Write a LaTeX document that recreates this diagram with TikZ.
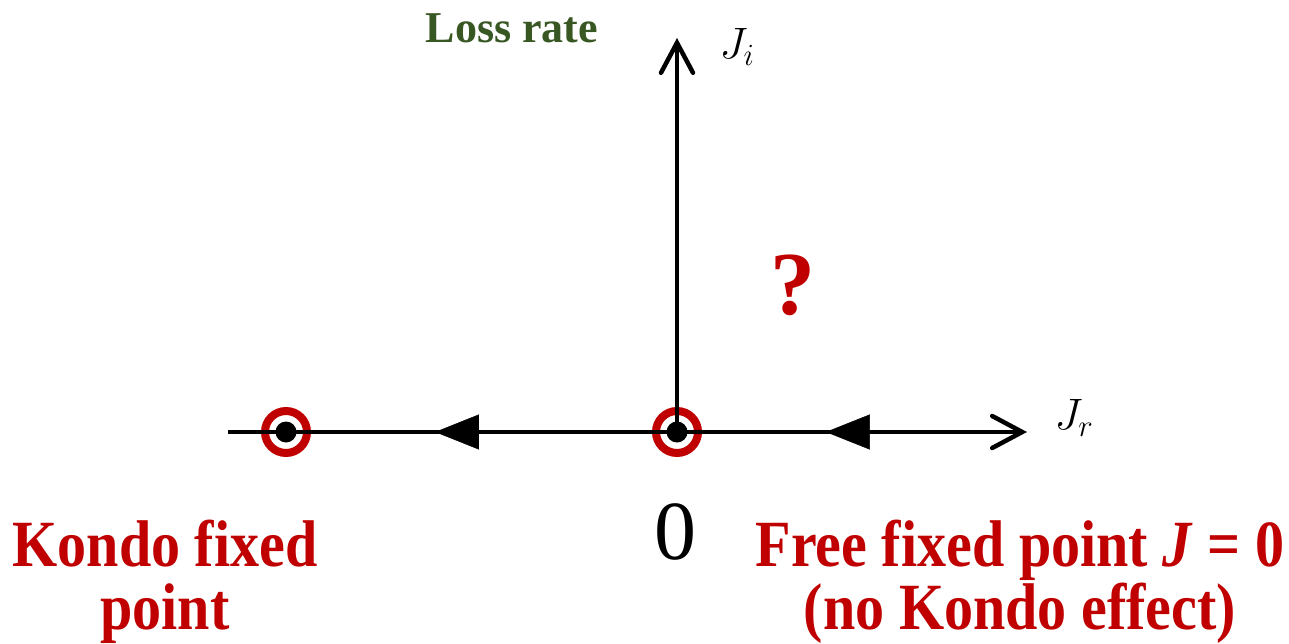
\RequirePackage{fix-cm}
\documentclass[tikz,border=0pt]{standalone}
\usepackage{fontspec}
\setmainfont{Liberation Serif}
\newfontfamily\condserif[FakeStretch=0.88]{Liberation Serif}
\usetikzlibrary{arrows.meta, decorations.markings}
\definecolor{kred}{RGB}{192,0,0}
\definecolor{lossgreen}{RGB}{56,87,35}

\begin{document}
\begin{tikzpicture}[x=1pt, y=-1pt,
  axis/.style={line width=4.5pt, -{Straight Barb[length=30pt, width=32pt, line cap=round]}},
  fixedpt/.style={circle, draw=kred, line width=8pt, minimum size=42pt, inner sep=0pt},
  flow/.style={postaction={decorate}, decoration={markings,
      mark=at position #1 with {\arrow{Triangle[length=44pt, width=35pt]}}}},
  redtext/.style={text=kred, font=\condserif\fontsize{66}{63}\selectfont\bfseries, align=center, inner sep=0pt},
  axlabel/.style={font=\fontsize{44}{44}\selectfont, inner sep=0pt}
]
  \useasboundingbox (0,0) rectangle (1289,644);

  % fixed points
  \node[fixedpt] (kondo) at (286,432) {};
  \node[fixedpt] (free)  at (677,432) {};

  % axes
  \coordinate (xstart) at (228,432);
  \coordinate (xend)   at (1027,432);
  \coordinate (yend)   at (677,38);
  \draw[axis] (xstart) -- (xend);
  \draw[axis] (free.center) -- (yend);
  \fill (kondo.center) circle (10.5pt);
  \fill (free.center) circle (10.5pt);

  % RG flow
  \path[flow=0.619] (free.center) -- (kondo.center);
  \path[flow=0.575] (xend) -- (free.center);

  \node[axlabel] (jr) at (1074,418) {$J_r$};
  \node[axlabel] (ji) at (737,47) {$J_i$};
  \node[font=\fontsize{44}{44}\selectfont\bfseries, text=lossgreen, inner sep=0pt] (loss) at (512,28) {Loss rate};
  \node[font=\fontsize{90}{90}\selectfont\bfseries, text=kred, inner sep=0pt] (q) at (793,285) {?};
  \node[font=\fontsize{84}{84}\selectfont, inner sep=0pt] (zero) at (675,532) {0};

  \node[redtext] (kondolab) at (165,582) {Kondo fixed\\point};
  \node[redtext] (freelab) at (1020,582) {Free fixed point \textit{J} = 0\\(no Kondo effect)};
\end{tikzpicture}
\end{document}
